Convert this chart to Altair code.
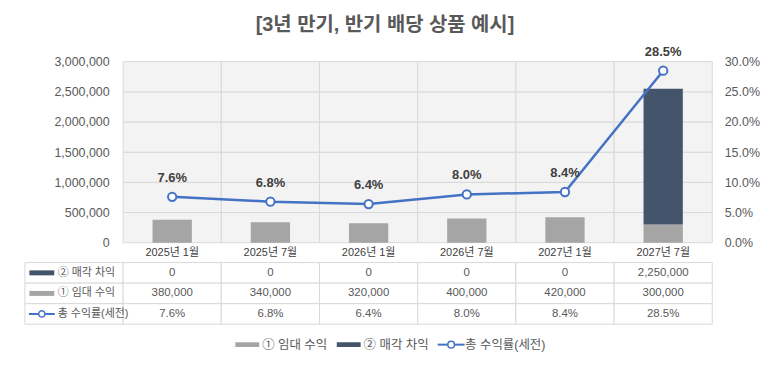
import altair as alt
import pandas as pd

# ---------------- data ----------------
categories = ["2025년 1월", "2025년 7월", "2026년 1월", "2026년 7월", "2027년 1월", "2027년 7월"]
rental_income = [380000, 340000, 320000, 400000, 420000, 300000]
sale_gain = [0, 0, 0, 0, 0, 2250000]
total_yield = [7.6, 6.8, 6.4, 8.0, 8.4, 28.5]

series_rental = "① 임대 수익"
series_sale = "② 매각 차익"
series_yield = "총 수익률(세전)"
title_text = "[3년 만기, 반기 배당 상품 예시]"

left_ticks = [0, 500000, 1000000, 1500000, 2000000, 2500000, 3000000]
right_ticks = [0.0, 0.05, 0.10, 0.15, 0.20, 0.25, 0.30]

# ---------------- style ----------------
LAB = "_lab"
cols = [LAB] + categories
GRID = "#d9d9d9"
TXT = "#595959"
DARK = "#404040"
GREY = "#a5a5a5"
NAVY = "#44546a"
BLUE = "#4472c4"
BG = "#f3f3f3"
FONT = "Liberation Sans, Noto Sans CJK KR, sans-serif"
BAR_PATH = "M-1,-0.2L1,-0.2L1,0.2L-1,0.2Z"
LINE_PATH = "M-1,0L1,0"

W = 691

xscale = alt.Scale(type="band", domain=cols, paddingInner=0, paddingOuter=0)
bar_color = alt.Scale(domain=[series_rental, series_sale], range=[GREY, NAVY])

# ---------------- top chart ----------------
cells_df = pd.DataFrame(
    [{"col": c, "lo": lo, "hi": hi} for c in categories for lo, hi in zip(left_ticks[:-1], left_ticks[1:])]
)
bars_df = pd.DataFrame({
    "col": categories * 2,
    "series": [series_rental] * len(categories) + [series_sale] * len(categories),
    "value": rental_income + sale_gain,
    "order": [0] * len(categories) + [1] * len(categories),
})
yield_df = pd.DataFrame({
    "col": categories,
    "rate": [v / 100 for v in total_yield],
    "label": [f"{v:.1f}%" for v in total_yield],
})

yl_scale = alt.Scale(domain=[left_ticks[0], left_ticks[-1]], nice=False, zero=True)
yr_scale = alt.Scale(domain=[right_ticks[0], right_ticks[-1]], nice=False, zero=True)

left_axis = alt.Axis(values=left_ticks, format=",.0f", offset=-W / 7, ticks=False, domain=False,
                     grid=False, labelPadding=14, labelFontSize=12.5, labelColor=TXT, labelFont=FONT,
                     labelOverlap=False, title=None)
x_axis = alt.Axis(labelExpr=f"datum.value == '{LAB}' ? '' : datum.value",
                  ticks=False, domain=False, grid=False, labelAngle=0, title=None,
                  labelPadding=4, labelFontSize=11, labelColor=DARK, labelFont=FONT)

cells = alt.Chart(cells_df).mark_rect(fill=BG, stroke=GRID, strokeWidth=1).encode(
    x=alt.X("col:N", scale=xscale, sort=cols, axis=x_axis),
    y=alt.Y("lo:Q", scale=yl_scale, axis=left_axis),
    y2="hi:Q",
)

bars = alt.Chart(bars_df).mark_bar(width={"band": 0.4}).encode(
    x=alt.X("col:N", scale=xscale, sort=cols, axis=x_axis),
    y=alt.Y("value:Q", stack="zero", scale=yl_scale, axis=left_axis),
    color=alt.Color("series:N", scale=bar_color, legend=None),
    order=alt.Order("order:Q", sort="ascending"),
)

left_layer = alt.layer(cells, bars)

right_axis = alt.Axis(orient="right", values=right_ticks, format=".1%", ticks=False, domain=False,
                      grid=False, labelPadding=12, labelFontSize=12.5, labelColor=TXT, labelFont=FONT,
                      labelOverlap=False, title=None)

line = alt.Chart(yield_df).mark_line(color=BLUE, strokeWidth=2.5).encode(
    x=alt.X("col:N", scale=xscale, sort=cols, axis=x_axis),
    y=alt.Y("rate:Q", scale=yr_scale, axis=right_axis),
)
pts = alt.Chart(yield_df).mark_point(shape="circle", filled=True, fill="white", stroke=BLUE,
                                     strokeWidth=2, size=70, opacity=1).encode(
    x=alt.X("col:N", scale=xscale, sort=cols, axis=x_axis),
    y=alt.Y("rate:Q", scale=yr_scale, axis=right_axis),
)
lbls = alt.Chart(yield_df).mark_text(dy=-19, fontWeight="bold", fontSize=13, color=DARK, font=FONT).encode(
    x=alt.X("col:N", scale=xscale, sort=cols, axis=x_axis),
    y=alt.Y("rate:Q", scale=yr_scale, axis=right_axis),
    text="label:N",
)
right_layer = alt.layer(line, pts, lbls)

top = alt.layer(left_layer, right_layer).resolve_scale(y="independent").properties(width=W, height=182)

# ---------------- data table ----------------
rows = [series_sale, series_rental, series_yield]
tcells_df = pd.DataFrame([{"col": c, "row": r} for c in cols for r in rows])
tvals = []
for i, c in enumerate(categories):
    tvals.append({"col": c, "row": series_sale, "txt": f"{sale_gain[i]:,}"})
    tvals.append({"col": c, "row": series_rental, "txt": f"{rental_income[i]:,}"})
    tvals.append({"col": c, "row": series_yield, "txt": f"{total_yield[i]:.1f}%"})
tvals_df = pd.DataFrame(tvals)
tlab_df = pd.DataFrame({"col": [LAB] * len(rows), "row": rows})
tbar_df = pd.DataFrame({"col": [LAB, LAB], "row": [series_sale, series_rental]})
tline_df = pd.DataFrame({"col": [LAB], "row": [series_yield]})

yrow = alt.Scale(type="band", domain=rows, paddingInner=0, paddingOuter=0)
x_t = alt.X("col:N", scale=xscale, sort=cols, axis=None)
x_t0 = alt.X("col:N", scale=xscale, sort=cols, axis=None, bandPosition=0)
y_t = alt.Y("row:N", scale=yrow, sort=rows, axis=None)

t_cells = alt.Chart(tcells_df).mark_rect(fill="white", stroke=GRID, strokeWidth=1).encode(x=x_t, y=y_t)
t_vals = alt.Chart(tvals_df).mark_text(fontSize=11.5, color=TXT, font=FONT).encode(x=x_t, y=y_t, text="txt:N")
t_labs = alt.Chart(tlab_df).mark_text(fontSize=11, color=TXT, font=FONT, align="left", dx=33).encode(
    x=x_t0, y=y_t, text="row:N")
t_bsym = alt.Chart(tbar_df).mark_point(shape=BAR_PATH, filled=True, size=625, opacity=1, xOffset=17).encode(
    x=x_t0, y=y_t, color=alt.Color("row:N", scale=bar_color, legend=None))
t_lsym = alt.Chart(tline_df).mark_point(shape=LINE_PATH, filled=False, stroke=BLUE, strokeWidth=2,
                                        size=676, opacity=1, xOffset=17).encode(x=x_t0, y=y_t)
t_csym = alt.Chart(tline_df).mark_point(shape="circle", filled=True, fill="white", stroke=BLUE,
                                        strokeWidth=1.5, size=40, opacity=1, xOffset=17).encode(x=x_t0, y=y_t)

table = alt.layer(t_cells, t_vals, t_labs, t_bsym, t_lsym, t_csym).properties(width=W, height=62)

# ---------------- legend ----------------
items = [series_rental, series_sale, series_yield]
leg_df = pd.DataFrame({"item": items})
leg_bar_df = pd.DataFrame({"item": [series_rental, series_sale]})
leg_line_df = pd.DataFrame({"item": [series_yield]})
x_l = alt.X("item:N", scale=alt.Scale(type="band", domain=items, paddingInner=0, paddingOuter=0),
            sort=items, axis=None, bandPosition=0)

l_bsym = alt.Chart(leg_bar_df).mark_point(shape=BAR_PATH, filled=True, size=576, opacity=1, xOffset=31).encode(
    x=x_l, color=alt.Color("item:N", scale=bar_color, legend=None))
l_lsym = alt.Chart(leg_line_df).mark_point(shape=LINE_PATH, filled=False, stroke=BLUE, strokeWidth=2,
                                           size=729, opacity=1, xOffset=32).encode(x=x_l)
l_csym = alt.Chart(leg_line_df).mark_point(shape="circle", filled=True, fill="white", stroke=BLUE,
                                           strokeWidth=1.5, size=45, opacity=1, xOffset=32).encode(x=x_l)
l_txt = alt.Chart(leg_df).mark_text(fontSize=12.5, color=TXT, font=FONT, align="left", dx=46).encode(
    x=x_l, text="item:N")
legend = alt.layer(l_bsym, l_lsym, l_csym, l_txt).properties(width=306, height=1)

chart = alt.vconcat(top, table, legend, spacing=20, bounds="flush", center=True).properties(
    title=alt.Title(title_text, fontSize=20, fontWeight="bold", color=TXT, font=FONT,
                    anchor="middle", offset=11, dx=-7),
    padding={"left": 16, "top": 6, "right": 5, "bottom": 5},
).configure_view(stroke=None)

chart.save("out.html", embed_options={"renderer": "svg", "actions": False})
